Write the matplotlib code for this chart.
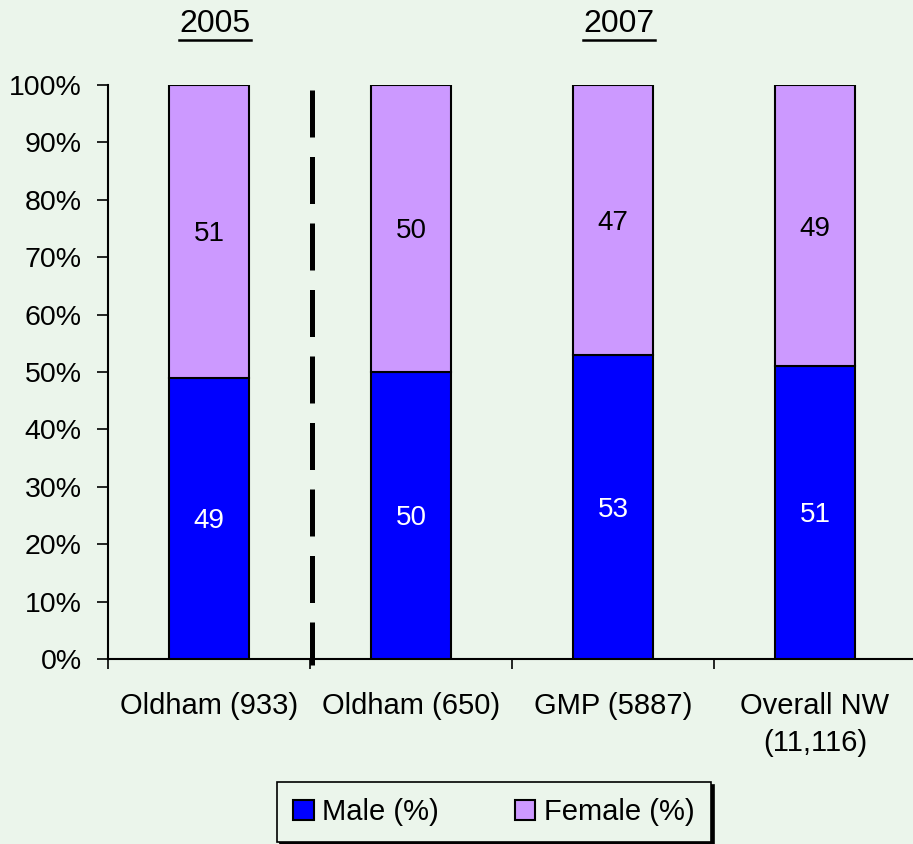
import matplotlib
matplotlib.use("Agg")
import matplotlib.pyplot as plt
from matplotlib.ticker import FixedLocator, PercentFormatter
import numpy as np

plt.rcParams["font.family"] = ["Liberation Sans", "DejaVu Sans"]

# data
categories = ["Oldham (933)", "Oldham (650)", "GMP (5887)", "Overall NW\n(11,116)"]
male = [49, 50, 53, 51]
female = [51, 50, 47, 49]
years = ["2005", "2007"]

BG = "#EBF5EB"
MALE_C = "#0000FF"
FEMALE_C = "#CC99FF"
FS = 20.5

fig = plt.figure(figsize=(9.13, 8.44), dpi=100, facecolor=BG)
ax = fig.add_axes([108 / 913, 1 - 659 / 844, 808 / 913, 574 / 844])
ax.set_facecolor(BG)

x = np.arange(len(categories))
w = 0.4
ax.bar(x, male, w, color=MALE_C, edgecolor="black", linewidth=1.5,
       label="Male (%)", zorder=3)
ax.bar(x, female, w, bottom=male, color=FEMALE_C, edgecolor="black",
       linewidth=1.5, label="Female (%)", zorder=3)

# value labels in the middle of each segment
for xi, m, f in zip(x, male, female):
    ax.text(xi, m / 2 - 0.5, str(m), ha="center", va="center", color="white",
            fontsize=20, zorder=4)
    ax.text(xi, m + f / 2 - 0.5, str(f), ha="center", va="center",
            color="black", fontsize=20, zorder=4)

ax.set_xlim(-0.5, 3.5)
ax.set_ylim(0, 100)
ax.yaxis.set_major_locator(FixedLocator(np.arange(0, 101, 10)))
ax.yaxis.set_major_formatter(PercentFormatter(decimals=0))
ax.tick_params(axis="y", labelsize=FS, length=8, width=1.2, pad=11)

# ticks at category boundaries, labels centred under bars
ax.xaxis.set_major_locator(FixedLocator(np.arange(-0.5, 3.6, 1.0)))
ax.set_xticklabels([])
ax.set_xticks(x, minor=True)
ax.set_xticklabels(categories, minor=True, fontsize=21, linespacing=1.4)
ax.tick_params(axis="x", which="major", length=7, width=1.2)
ax.tick_params(axis="x", which="minor", length=0, pad=24)

for s in ("top", "right"):
    ax.spines[s].set_visible(False)
for s in ("left", "bottom"):
    ax.spines[s].set_linewidth(1.5)

# dashed divider between years
ax.plot([0.51, 0.51], [99.1, -1.0], color="black", linewidth=3.6,
        dashes=(9.4, 3.9), clip_on=False, zorder=5)

# underlined year headers
for label, xc in zip(years, [0, 2]):
    xf = ax.transData.transform((xc + 0.03, 0))[0] / fig.bbox.width
    fig.text(xf, 1 - 24 / 844, label, fontsize=23, ha="center", va="center")
    fig.lines.append(plt.Line2D([xf - 36 / 913, xf + 36 / 913],
                                [1 - 40 / 844, 1 - 40 / 844],
                                transform=fig.transFigure, color="black",
                                linewidth=1.8))

leg = fig.legend(loc="center", bbox_to_anchor=(494 / 913, 1 - 812 / 844),
                 ncol=2, fontsize=21, frameon=True, fancybox=False,
                 edgecolor="black", facecolor=BG, framealpha=1,
                 handlelength=0.7, handleheight=0.7, handletextpad=0.3,
                 columnspacing=2.6, borderpad=0.55, borderaxespad=0,
                 shadow={"color": "black", "alpha": 1})
leg.get_frame().set_linewidth(1.2)

fig.savefig("out.png", dpi=100, facecolor=BG)
